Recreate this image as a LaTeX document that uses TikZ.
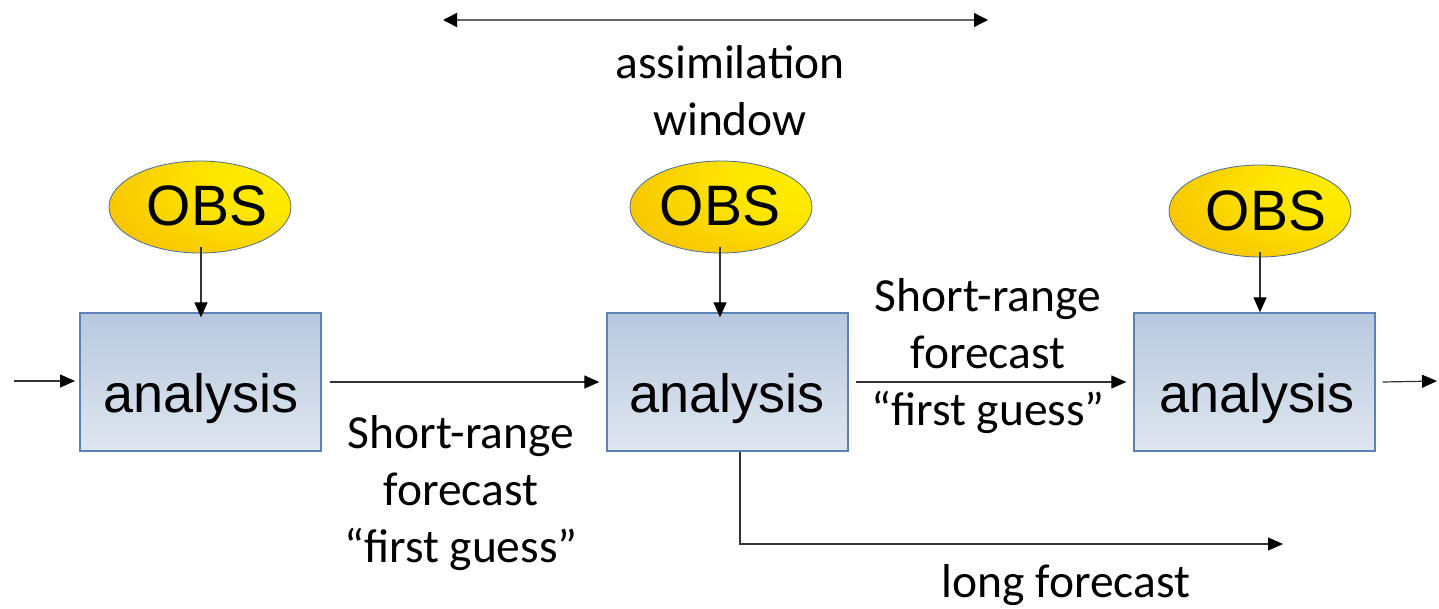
\documentclass[tikz,border=0pt]{standalone}
\usepackage{fontspec}
\setmainfont{Carlito}
\newfontfamily\arialf{Liberation Sans}
\usetikzlibrary{arrows.meta,shapes.geometric}
\definecolor{boxtop}{HTML}{B7C8DE}
\definecolor{boxbot}{HTML}{DFE6F0}
\definecolor{boxline}{HTML}{5A82B4}
\definecolor{obsyel}{HTML}{FFEE00}
\definecolor{obsora}{HTML}{F3AC00}
\definecolor{obsline}{HTML}{4A6C96}
\definecolor{arrline}{HTML}{333333}
\pgfdeclareradialshading{obsshade}{\pgfpoint{25bp}{15bp}}{color(0bp)=(obsyel); color(20bp)=(obsyel!85!obsora); color(60bp)=(obsora); color(100bp)=(obsora)}
\tikzset{
  obs/.style={ellipse, draw=obsline, line width=0.8pt, shading=obsshade, minimum width=182pt, minimum height=92pt, inner sep=0pt},
  abox/.style={rectangle, draw=boxline, line width=1.3pt, top color=boxtop, bottom color=boxbot, minimum width=241pt, minimum height=138pt, inner sep=0pt},
  arr/.style={-{Triangle[length=15pt,width=13pt,color=black]}, line width=1.2pt, draw=arrline},
  darr/.style={{Triangle[length=14pt,width=14pt,color=black]}-{Triangle[length=14pt,width=14pt,color=black]}, line width=1.4pt, draw=black!60},
  lbl/.style={font=\fontsize{47.5}{57}\selectfont, align=center, inner sep=0pt},
  bigtxt/.style={font=\arialf\fontsize{54}{60}\selectfont, inner sep=0pt, anchor=base},
  obstxt/.style={font=\arialf\fontsize{57}{60}\selectfont, inner sep=0pt, anchor=base}
}
\begin{document}
\begin{tikzpicture}[x=1pt,y=-1pt]
\useasboundingbox (0,0) rectangle (1439,608);
% boxes
\node[abox] (b1) at (200.5,382) {};
\node[abox] (b2) at (727.5,382) {};
\node[abox] (b3) at (1254.5,382) {};
\node[bigtxt] (t1) at (201,412) {analysis};
\node[bigtxt] (t2) at (727,412) {analysis};
\node[bigtxt] (t3) at (1257,412) {analysis};
% OBS ellipses
\node[obs] (o1) at (200,207) {};
\node[obs] (o2) at (721,207) {};
\node[obs] (o3) at (1260,211) {};
\node[obstxt] (ot1) at (207,225) {OBS};
\node[obstxt] (ot2) at (720,225) {OBS};
\node[obstxt] (ot3) at (1266,230) {OBS};
% OBS arrows
\draw[arr] ([yshift=6]o1.south -| 201,0) -- ([yshift=-5]b1.north -| 201,0);
\draw[arr] ([yshift=6]o2.south -| 720,0) -- ([yshift=-5]b2.north -| 720,0);
\draw[arr] ([yshift=5]o3.south -| 1260,0) -- (b3.north -| 1260,0);
% horizontal chain
\coordinate (in) at (14,381);
\coordinate (out) at (1437,381);
\draw[arr] (in) -- (75,381);
\draw[arr] ([xshift=8]b1.east) -- ([xshift=-7]b2.west);
\draw[arr] ([xshift=7]b2.east) -- ([xshift=-7]b3.west);
\draw[arr] ([xshift=7]b3.east) -- (out);
% long forecast
\coordinate (lf) at (1283,544);
\draw[arr] (b2.south -| 740,0) |- (lf);
% assimilation window
\coordinate (aw1) at (443,20);
\coordinate (aw2) at (988,20);
\draw[darr] (aw1) -- (aw2);
% labels
\node[lbl] (lab1) at (730,91) {assimilation\\window};
\node[lbl] (lab2) at (461,493) {Short-range\\forecast\\“first guess”};
\node[lbl] (lab3) at (988,356) {Short-range\\forecast\\“first guess”};
\node[lbl, anchor=base] (lab4) at (1066,597) {long forecast};
\end{tikzpicture}
\end{document}
